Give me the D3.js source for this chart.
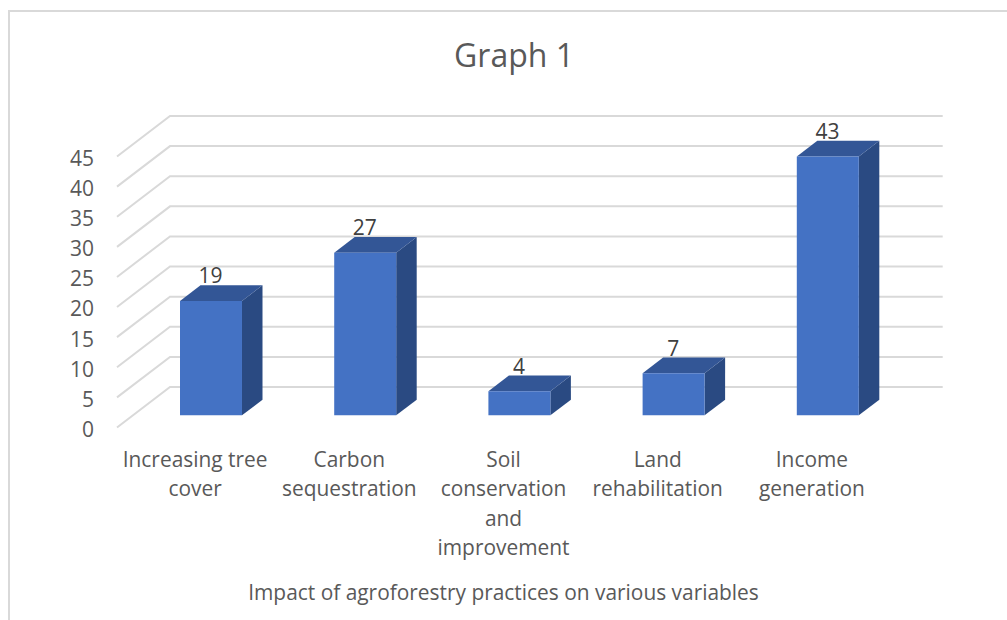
<!DOCTYPE html>
<html>
<head>
<meta charset="utf-8">
<script src="https://cdn.jsdelivr.net/npm/d3@7"></script>
<style>
  body { margin: 0; background: #fff; }
  text { font-family: "Open Sans", sans-serif; fill: #595959; }
</style>
</head>
<body>
<div id="graph"></div>
<script>
// values
var categories = ["Increasing tree cover", "Carbon sequestration", "Soil conservation and improvement", "Land rehabilitation", "Income generation"];
var categoryLines = [["Increasing tree", "cover"], ["Carbon", "sequestration"], ["Soil", "conservation", "and", "improvement"], ["Land", "rehabilitation"], ["Income", "generation"]];
var values = [19, 27, 4, 7, 43];
var yTicks = [0, 5, 10, 15, 20, 25, 30, 35, 40, 45];

var w = 1007, h = 620;
var depthX = 53, depthY = 40.5; // floor offset, front edge to back wall
var barFront = 0.3, barBack = 0.687; // bar position along the floor depth

var x = d3.scaleBand().domain(categories).range([118, 889]).paddingInner(0.598).paddingOuter(0.299);
var y = d3.scaleLinear().domain([0, 45]).range([427.5, 156.5]);

// fake 3d: move a front plane point back by depth d (0..1)
function pt(px, val, d) {
  return [px + depthX * d, y(val) - depthY * d];
}
var line = d3.line();

var svg = d3.select("#graph").append("svg").attr("width", w).attr("height", h).style("display", "block");

// chart frame, only top and left are in the crop
svg.append("path").attr("d", line([[9, h], [9, 11], [w, 11]]))
  .attr("fill", "none").attr("stroke", "#d9d9d9").attr("stroke-width", 2);

svg.append("text").attr("x", 514).attr("y", 67).attr("text-anchor", "middle")
  .style("font-size", "32px").text("Graph 1");

// gridlines on side wall and back wall
svg.append("g").selectAll("path").data(yTicks).join("path")
  .attr("d", function (d) {
    return line([pt(117, d, 0), pt(117, d, 1), [942.7, pt(117, d, 1)[1]]]);
  })
  .attr("fill", "none").attr("stroke", "#d9d9d9").attr("stroke-width", 2);

// y axis
var yAxis = d3.axisLeft(y).tickValues(yTicks).tickSize(0).tickPadding(0);
var yG = svg.append("g").attr("transform", "translate(94,1.5)").call(yAxis);
yG.select(".domain").remove();
yG.selectAll("text").style("font-size", "21px").attr("x", 0).attr("dy", "0.35em");

// x axis labels, wrapped by hand like the original
var xAxis = d3.axisBottom(x).tickSize(0).tickFormat("");
var xG = svg.append("g").attr("transform", "translate(0,467)").call(xAxis);
xG.select(".domain").remove();
xG.selectAll(".tick text").each(function (d, i) {
  d3.select(this).attr("y", 0).attr("dy", null).style("font-size", "20.9px")
    .selectAll("tspan").data(categoryLines[i]).join("tspan")
    .attr("x", 0).attr("y", function (t, j) { return j * 29.4; }).text(function (t) { return t; });
});

svg.append("text").attr("x", 503.5).attr("y", 600).attr("text-anchor", "middle")
  .style("font-size", "20.9px").text("Impact of agroforestry practices on various variables");

// bars
var bars = svg.append("g").selectAll("g").data(values).join("g");

bars.append("path").attr("fill", "#2a4a82").attr("d", function (d, i) {
  var r = x(categories[i]) + x.bandwidth();
  return line([pt(r, 0, barFront), pt(r, d, barFront), pt(r, d, barBack), pt(r, 0, barBack)]) + "Z";
});
bars.append("path").attr("fill", "#335696").attr("d", function (d, i) {
  var l = x(categories[i]), r = l + x.bandwidth();
  return line([pt(l, d, barFront), pt(r, d, barFront), pt(r, d, barBack), pt(l, d, barBack)]) + "Z";
});
bars.append("path").attr("fill", "#4472c4").attr("d", function (d, i) {
  var l = x(categories[i]), r = l + x.bandwidth();
  return line([pt(l, 0, barFront), pt(r, 0, barFront), pt(r, d, barFront), pt(l, d, barFront)]) + "Z";
});

// data labels sit above the back of the bar top
bars.append("text").attr("text-anchor", "middle").style("font-size", "21px").style("fill", "#404040")
  .attr("x", function (d, i) { return pt(x(categories[i]) + x.bandwidth() / 2, d, 0)[0] + 15.5; })
  .attr("y", function (d, i) { return pt(0, d, barBack)[1] - 2; })
  .text(function (d) { return d; });
</script>
</body>
</html>
